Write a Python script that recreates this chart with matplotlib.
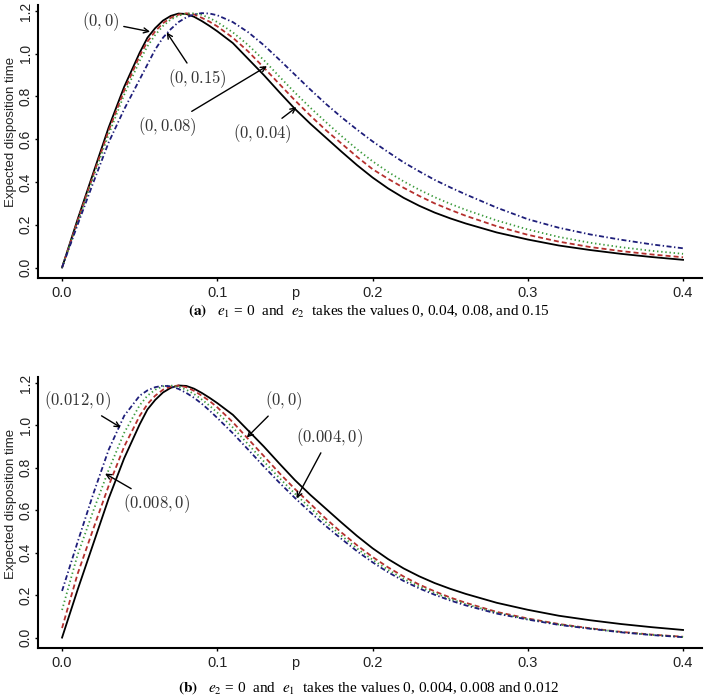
import matplotlib
matplotlib.use("Agg")
import matplotlib.pyplot as plt

plt.rcParams['lines.scale_dashes'] = False

# ---------------- data ----------------
p = [0, 0.01, 0.02, 0.03, 0.04, 0.05, 0.055, 0.06, 0.065, 0.07, 0.075, 0.08,
     0.085, 0.09, 0.095, 0.10, 0.11, 0.12, 0.13, 0.14, 0.15, 0.16, 0.17, 0.18,
     0.19, 0.20, 0.21, 0.22, 0.23, 0.24, 0.25, 0.26, 0.28, 0.30, 0.32, 0.34,
     0.36, 0.38, 0.40]

# (e1, e2) = (0, 0) -- shared by both panels
base_00 = [0, 0.225, 0.44, 0.655, 0.845, 1.005, 1.075, 1.12, 1.155, 1.177, 1.188, 1.186,
           1.173, 1.153, 1.13, 1.105, 1.05, 0.975, 0.90, 0.82, 0.742, 0.672, 0.607, 0.542,
           0.479, 0.421, 0.37, 0.326, 0.289, 0.257, 0.23, 0.206, 0.164, 0.131, 0.103,
           0.082, 0.064, 0.049, 0.036]

# panel (a): e1 = 0, e2 varies
a_0_004 = [0, 0.218, 0.43, 0.64, 0.828, 0.99, 1.057, 1.105, 1.143, 1.168, 1.183, 1.189,
           1.184, 1.168, 1.15, 1.128, 1.075, 1.01, 0.935, 0.858, 0.782, 0.71, 0.642, 0.58,
           0.518, 0.46, 0.415, 0.373, 0.335, 0.30, 0.27, 0.242, 0.193, 0.153, 0.121,
           0.096, 0.077, 0.061, 0.048]
a_0_008 = [0, 0.21, 0.42, 0.622, 0.808, 0.967, 1.035, 1.088, 1.13, 1.16, 1.178, 1.188,
           1.189, 1.182, 1.167, 1.148, 1.10, 1.04, 0.97, 0.893, 0.818, 0.747, 0.68, 0.615,
           0.553, 0.497, 0.447, 0.403, 0.364, 0.329, 0.298, 0.27, 0.22, 0.178, 0.143,
           0.116, 0.095, 0.078, 0.064]
a_0_015 = [0, 0.20, 0.395, 0.585, 0.74, 0.88, 0.95, 1.02, 1.075, 1.115, 1.148, 1.17,
           1.184, 1.19, 1.188, 1.18, 1.148, 1.10, 1.04, 0.972, 0.902, 0.832, 0.765, 0.703,
           0.645, 0.59, 0.54, 0.492, 0.45, 0.41, 0.375, 0.342, 0.28, 0.226, 0.186,
           0.155, 0.13, 0.108, 0.09]

# panel (b): e2 = 0, e1 varies
b_0004_0 = [0.045, 0.30, 0.51, 0.715, 0.90, 1.045, 1.10, 1.14, 1.168, 1.183, 1.188, 1.18,
            1.163, 1.14, 1.115, 1.085, 1.015, 0.935, 0.855, 0.775, 0.70, 0.63, 0.56, 0.495,
            0.435, 0.38, 0.331, 0.288, 0.25, 0.218, 0.189, 0.164, 0.121, 0.09, 0.064,
            0.044, 0.027, 0.014, 0.004]
b_0008_0 = [0.13, 0.39, 0.595, 0.79, 0.965, 1.095, 1.14, 1.168, 1.184, 1.188, 1.182, 1.168,
            1.148, 1.122, 1.093, 1.06, 0.99, 0.91, 0.83, 0.752, 0.678, 0.61, 0.543, 0.48,
            0.42, 0.367, 0.319, 0.277, 0.241, 0.21, 0.182, 0.158, 0.117, 0.087, 0.062,
            0.043, 0.026, 0.013, 0.003]
b_0012_0 = [0.22, 0.45, 0.675, 0.885, 1.045, 1.14, 1.165, 1.18, 1.187, 1.184, 1.172, 1.153,
            1.13, 1.102, 1.07, 1.035, 0.963, 0.885, 0.806, 0.73, 0.658, 0.59, 0.525, 0.465,
            0.407, 0.355, 0.308, 0.267, 0.232, 0.202, 0.175, 0.152, 0.113, 0.085, 0.06,
            0.042, 0.025, 0.012, 0.002]

xticks = [0.0, 0.1, 0.2, 0.3, 0.4]
xticklabels = ["0.0", "0.1", "0.2", "0.3", "0.4"]
yticks = [0.0, 0.2, 0.4, 0.6, 0.8, 1.0, 1.2]
yticklabels = ["0.0", "0.2", "0.4", "0.6", "0.8", "1.0", "1.2"]

labels_a = [r"$(0,0)$", r"$(0,0.04)$", r"$(0,0.08)$", r"$(0,0.15)$"]
labels_b = [r"$(0,0)$", r"$(0.004,0)$", r"$(0.008,0)$", r"$(0.012,0)$"]

caption_a = r"$\mathbf{(a)}$   $e_1$ = 0  and  $e_2$  takes the values 0, 0.04, 0.08, and 0.15"
caption_b = r"$\mathbf{(b)}$   $e_2$ = 0  and  $e_1$  takes the values 0, 0.004, 0.008 and 0.012"

# ---------------- styles ----------------
styles = [
    dict(color="black", lw=1.3, linestyle="-"),
    dict(color="#b5302e", lw=1.3, dashes=(3.6, 2.2)),
    dict(color="#3c9a3c", lw=1.3, dashes=(1.0, 2.0)),
    dict(color="#1e1e7a", lw=1.3, dashes=(3.6, 1.8, 1.0, 1.8)),
]

W, H = 705, 700
fig = plt.figure(figsize=(W / 100, H / 100), dpi=100)
ax1 = fig.add_axes([38 / W, (H - 278) / H, 664 / W, 273 / H])
ax2 = fig.add_axes([38 / W, (H - 648) / H, 664 / W, 271 / H])


def setup(ax):
    ax.set_xlim(-0.0155, 0.4122)
    ax.set_ylim(-0.049, 1.228)
    for s in ("top", "right"):
        ax.spines[s].set_visible(False)
    for s in ("left", "bottom"):
        ax.spines[s].set_linewidth(1.5)
    ax.set_xticks(xticks)
    ax.set_xticklabels(xticklabels, fontdict=dict(family="Liberation Sans", size=10.5),
                       color="#222222")
    ax.set_yticks(yticks)
    ax.set_yticklabels(yticklabels, fontdict=dict(family="Liberation Sans", size=10),
                       color="#222222", rotation=90, va="center")
    ax.tick_params(axis="x", length=2.5, width=1, pad=3)
    ax.tick_params(axis="y", length=2.5, width=1, pad=1.2)
    ax.set_ylabel("Expected disposition time",
                  fontdict=dict(family="Liberation Sans", size=9.5), color="#222222")
    ax.annotate("p", xy=(0.15, 0), xycoords=("data", "axes fraction"),
                xytext=(0, -5.5), textcoords="offset points", ha="center", va="top",
                family="Liberation Sans", fontsize=10.5, color="#222222")


setup(ax1)
setup(ax2)
ax1.yaxis.set_label_coords(-0.031, 0.535)
ax2.yaxis.set_label_coords(-0.031, 0.531)

for ys, st in zip([base_00, a_0_004, a_0_008, a_0_015], styles):
    ax1.plot(p, ys, **st)
for ys, st in zip([base_00, b_0004_0, b_0008_0, b_0012_0], styles):
    ax2.plot(p, ys, **st)

arrow = dict(arrowstyle="->", color="black", lw=1.0, shrinkA=1, shrinkB=0,
             mutation_scale=9)
ann = dict(fontsize=12, math_fontfamily="cm", color="#333333", ha="center", va="center")

# panel (a) labels
ax1.annotate(labels_a[0], xy=(0.0567, 1.103), xytext=(0.025, 1.149), arrowprops=arrow, **ann)
ax1.annotate(labels_a[3], xy=(0.0674, 1.10), xytext=(0.087, 0.885), arrowprops=arrow, **ann)
ax1.annotate(labels_a[2], xy=(0.132, 0.942), xytext=(0.0676, 0.661), arrowprops=arrow, **ann)
ax1.annotate(labels_a[1], xy=(0.151, 0.75), xytext=(0.129, 0.628), arrowprops=arrow, **ann)

# panel (b) labels
ax2.annotate(labels_b[3], xy=(0.0378, 0.99), xytext=(0.0097, 1.115), arrowprops=arrow, **ann)
ax2.annotate(labels_b[0], xy=(0.119, 0.943), xytext=(0.1425, 1.115), arrowprops=arrow, **ann)
ax2.annotate(labels_b[1], xy=(0.151, 0.656), xytext=(0.172, 0.943), arrowprops=arrow, **ann)
ax2.annotate(labels_b[2], xy=(0.0277, 0.773), xytext=(0.061, 0.632), arrowprops=arrow, **ann)

cap = dict(ha="center", va="center", family="Liberation Serif", fontsize=11,
           math_fontfamily="stix")
fig.text(369 / W, 1 - 311 / H, caption_a, **cap)
fig.text(369 / W, 1 - 688 / H, caption_b, **cap)

fig.savefig("out.png", dpi=100)
